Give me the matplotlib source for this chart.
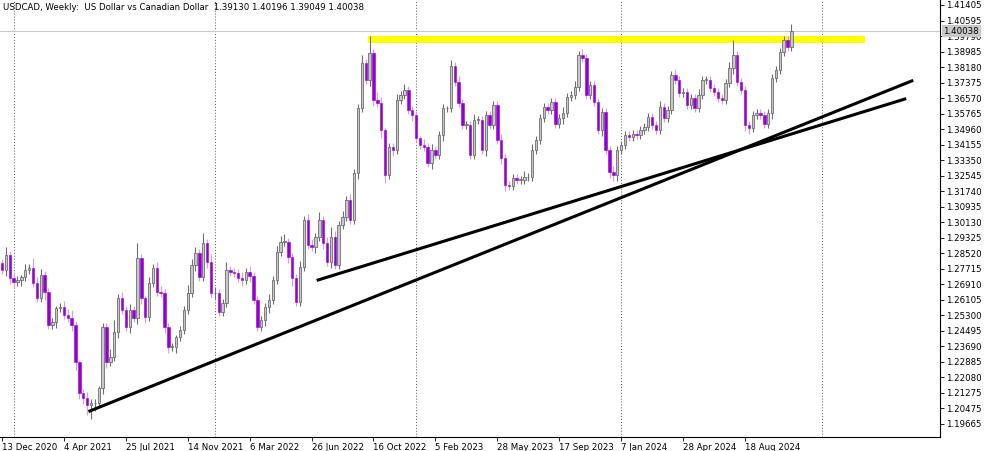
import numpy as np
import matplotlib
matplotlib.use("Agg")
import matplotlib.pyplot as plt
from matplotlib.patches import Rectangle

# weekly closes USDCAD, Dec 2020 - Oct 2024
closes = [
    1.2765, 1.2843, 1.2723, 1.2702, 1.2713, 1.2728, 1.2765, 1.2775, 1.2697, 1.2619,
    1.2739, 1.2651, 1.2479, 1.2495, 1.2567, 1.2573, 1.2531, 1.2516, 1.2479, 1.2287,
    1.2126, 1.2100, 1.2064, 1.2074, 1.2074, 1.2152, 1.2469, 1.2287, 1.2313, 1.2443,
    1.2619, 1.2557, 1.2469, 1.2557, 1.2516, 1.2827, 1.2619, 1.2521, 1.2697, 1.2775,
    1.2651, 1.2645, 1.2469, 1.2365, 1.2365, 1.2417, 1.2453, 1.2557, 1.2645, 1.2791,
    1.2853, 1.2728, 1.2905, 1.2806, 1.2645, 1.2645, 1.2547, 1.2593, 1.2765, 1.2754,
    1.2749, 1.2723, 1.2713, 1.2754, 1.2734, 1.2609, 1.2469, 1.2505, 1.2573, 1.2609,
    1.2713, 1.2858, 1.2910, 1.2910, 1.2832, 1.2723, 1.2599, 1.2780, 1.3024, 1.2894,
    1.2884, 1.2936, 1.3024, 1.2905, 1.2806, 1.2936, 1.2791, 1.2998, 1.3040, 1.3128,
    1.3024, 1.3268, 1.3605, 1.3839, 1.3751, 1.3891, 1.3647, 1.3631, 1.3491, 1.3258,
    1.3403, 1.3387, 1.3647, 1.3673, 1.3699, 1.3595, 1.3569, 1.3450, 1.3413, 1.3403,
    1.3320, 1.3387, 1.3362, 1.3465, 1.3605, 1.3605, 1.3823, 1.3740, 1.3631, 1.3517,
    1.3517, 1.3362, 1.3543, 1.3543, 1.3387, 1.3569, 1.3517, 1.3621, 1.3439, 1.3346,
    1.3206, 1.3201, 1.3242, 1.3232, 1.3232, 1.3247, 1.3247, 1.3387, 1.3439, 1.3554,
    1.3611, 1.3595, 1.3637, 1.3522, 1.3554, 1.3580, 1.3663, 1.3673, 1.3714, 1.3881,
    1.3865, 1.3673, 1.3725, 1.3637, 1.3491, 1.3585, 1.3387, 1.3273, 1.3258, 1.3387,
    1.3413, 1.3465, 1.3455, 1.3471, 1.3465, 1.3491, 1.3507, 1.3559, 1.3517, 1.3491,
    1.3611, 1.3554, 1.3595, 1.3777, 1.3751, 1.3683, 1.3689, 1.3621, 1.3657, 1.3605,
    1.3673, 1.3751, 1.3751, 1.3709, 1.3689, 1.3657, 1.3647, 1.3735, 1.3813, 1.3881,
    1.3740, 1.3699, 1.3517, 1.3502, 1.3569, 1.3580, 1.3569, 1.3522, 1.3580, 1.3761,
    1.3803, 1.3896, 1.3958, 1.3922, 1.4004,
]
first_open = 1.2800
# wick lengths above / below the body, in units of 0.001
wick_up = ("2423213253" "3222123342" "1232212246" "2323282132" "3322212243"
           "3252432242" "2232322223" "2334222323" "3242353232" "3224292431"
           "2232322213" "2322213232" "2232222223" "2222232322" "2222232232"
           "3222222232" "2222222222" "3222322222" "3222222238" "2222222222"
           "22224")
wick_dn = ("2333232222" "2422322234" "3357423322" "3223233322" "2233232222"
           "3223232222" "2232322233" "2222342222" "2323232222" "2232233244"
           "2322223222" "2322322222" "2222232223" "3222222222" "2222232222"
           "2222232333" "2222222222" "2222222222" "2222222223" "2233222223"
           "22222")

date_labels = ["13 Dec 2020", "4 Apr 2021", "25 Jul 2021", "14 Nov 2021", "6 Mar 2022",
               "26 Jun 2022", "16 Oct 2022", "5 Feb 2023", "28 May 2023", "17 Sep 2023",
               "7 Jan 2024", "28 Apr 2024", "18 Aug 2024"]
year_weeks = [3, 55, 107, 160, 212]
price_ticks = [1.19665, 1.20475, 1.21275, 1.22080, 1.22885, 1.23690, 1.24495, 1.25300,
               1.26105, 1.26910, 1.27715, 1.28520, 1.29325, 1.30130, 1.30935, 1.31740,
               1.32545, 1.33350, 1.34155, 1.34960, 1.35765, 1.36570, 1.37375, 1.38180,
               1.38985, 1.39790, 1.40595, 1.41405]
last_price = 1.40038
zone = (1.3945, 1.3981)
trend_a = [(22.7, 1.2033), (235.1, 1.3746)]
trend_b = [(81.7, 1.2713), (233.3, 1.3652)]

closes = np.array(closes)
opens = np.concatenate([[first_open], closes[:-1]])
highs = np.maximum(opens, closes) + np.array([int(c) for c in wick_up]) * 0.001
lows = np.minimum(opens, closes) - np.array([int(c) for c in wick_dn]) * 0.001
x = np.arange(len(closes))

fig = plt.figure(figsize=(10, 4.51), dpi=100)
ax = fig.add_axes([0.0, 0.031, 0.94, 0.969])

for w in year_weeks:
    ax.axvline(w, color="#555555", lw=0.7, ls=(0, (1, 2)), zorder=0)
ax.axhline(last_price, color="#c8c8c8", lw=0.8, zorder=0)

ax.add_patch(Rectangle((94.6, zone[0]), 223 - 94.6, zone[1] - zone[0],
                       color="#ffff00", zorder=1, lw=0))

bw = 0.62
for i in x:
    o, c, h, l = opens[i], closes[i], highs[i], lows[i]
    if c >= o:
        ax.vlines(i, l, h, color="#6e6e6e", lw=0.8, zorder=2)
        ax.add_patch(Rectangle((i - bw / 2, o), bw, max(c - o, 0.0003),
                               facecolor="#c8c8c8", edgecolor="#6e6e6e", lw=0.6, zorder=3))
    else:
        ax.vlines(i, l, h, color="#d59af0", lw=0.8, zorder=2)
        ax.add_patch(Rectangle((i - bw / 2, c), bw, o - c,
                               facecolor="#9400d3", edgecolor="#9400d3", lw=0.4, zorder=3))

for line in (trend_a, trend_b):
    ax.plot([line[0][0], line[1][0]], [line[0][1], line[1][1]], color="black", lw=2.2, zorder=4)

ax.set_xlim(-0.52, 242.4)
ax.set_ylim(1.1898, 1.4166)
ax.yaxis.tick_right()
ax.set_yticks(price_ticks)
ax.set_yticklabels([f"{p:.5f}" for p in price_ticks])
ax.set_xticks(np.arange(len(date_labels)) * 16)
ax.set_xticklabels(date_labels, ha="left")
ax.tick_params(axis="both", labelsize=6.2, length=3, width=0.6, pad=1.5)
for s in ("top", "left"):
    ax.spines[s].set_visible(False)
ax.spines["right"].set_linewidth(0.8)
ax.spines["bottom"].set_linewidth(0.8)

ax.text(243.3, last_price, f"{last_price:.5f}", fontsize=6.2, va="center", ha="left",
        color="black", bbox=dict(facecolor="#c8c8c8", edgecolor="none", pad=1.2),
        clip_on=False, zorder=5)
ax.text(0.003, 0.993, "USDCAD, Weekly:  US Dollar vs Canadian Dollar  1.39130 1.40196 1.39049 1.40038",
        transform=ax.transAxes, fontsize=6.2, va="top", ha="left")

fig.savefig("out.png", dpi=100)
